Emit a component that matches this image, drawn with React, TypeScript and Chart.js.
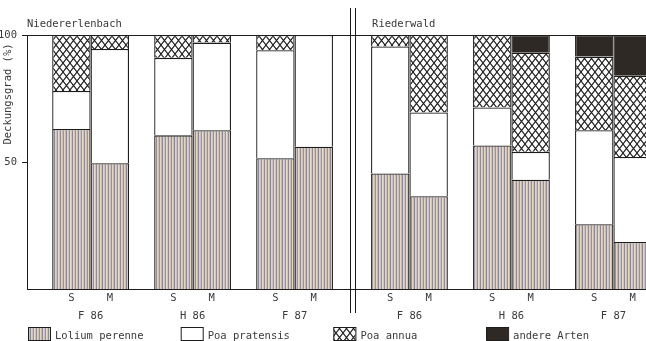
import React, { useEffect, useRef } from 'react';
import { Chart, registerables } from 'chart.js';

Chart.register(...registerables);

// ---------- data ----------
const panels = ['Niedererlenbach', 'Riederwald'];
const periods = ['F 86', 'H 86', 'F 87'];
const sites = ['S', 'M'];
const yTickValues = [50, 100];
const yTitle = 'Deckungsgrad (%)';
const speciesNames = ['Lolium perenne', 'Poa pratensis', 'Poa annua', 'andere Arten'];

// bar order: panel -> period -> site (S, M)
const loliumPerenne = [63, 49.5, 60.5, 62.5, 51.5, 56, 45.5, 36.5, 56.5, 43, 25.5, 18.5];
const poaPratensis = [15, 45, 30.5, 34.5, 42.5, 44, 50, 33, 15, 11, 37, 33.5];
const poaAnnua = [22, 5.5, 9, 3, 6, null, 4.5, 30.5, 28.5, 39, 29, 32];
const andereArten = [null, null, null, null, null, null, null, null, null, 7, 8.5, 16];

// ---------- layout (x in units of one bar width) ----------
const GAP = 0.656;
const PITCH = 2 + GAP;
const PANEL_START = [GAP, 8.96];
const X_MAX = 16.12;
const SEPARATOR = (PANEL_START[0] + 2 * PITCH + 2 + PANEL_START[1]) / 2;

const LINE = '#1c1c1c';
const TEXT = '#3a3a3a';
const FONT = '"DejaVu Sans Mono", "Liberation Mono", monospace';

type Bar = { x: number; p: number; g: number; s: number };
const bars: Bar[] = [];
panels.forEach((_, p) =>
  periods.forEach((_, g) =>
    sites.forEach((_, s) => bars.push({ x: PANEL_START[p] + g * PITCH + s + 0.5, p, g, s }))
  )
);

const xTicks: { value: number; label: string | string[] }[] = [];
panels.forEach((_, p) =>
  periods.forEach((per, g) => {
    const base = PANEL_START[p] + g * PITCH;
    xTicks.push({ value: base + 0.5, label: sites[0] });
    xTicks.push({ value: base + 1, label: ['', per] });
    xTicks.push({ value: base + 1.5, label: sites[1] });
  })
);

function makeStripePattern(): CanvasPattern | string {
  const c = document.createElement('canvas');
  const cols = [
    '#8e8a90', '#e2d5c8', '#cfc2b8', '#949099', '#e6d6c6', '#d6b8a0', '#8c8890', '#dcd2cc',
    '#c9c3c8', '#9a95a0', '#e8d9ca', '#d9c0aa', '#918c92', '#e0d4ca', '#cdbfb6', '#98939c',
    '#e4d4c4', '#d2b49c', '#8f8a92', '#ddd3cd', '#c8c4cc', '#96919a', '#e6d8cb', '#d6c4b4',
  ];
  c.width = cols.length;
  c.height = 4;
  const g = c.getContext('2d');
  if (!g) return '#c2b6ad';
  cols.forEach((col, i) => {
    g.fillStyle = col;
    g.fillRect(i, 0, 1, 4);
  });
  return g.createPattern(c, 'repeat') || '#c2b6ad';
}

function makeCrossPattern(): CanvasPattern | string {
  const c = document.createElement('canvas');
  const w = 7;
  const h = 9;
  c.width = w;
  c.height = h;
  const g = c.getContext('2d');
  if (!g) return '#999';
  g.fillStyle = '#ffffff';
  g.fillRect(0, 0, w, h);
  g.strokeStyle = '#1e1e1e';
  g.lineWidth = 1.1;
  g.beginPath();
  g.moveTo(0, 0);
  g.lineTo(w, h);
  g.moveTo(w, 0);
  g.lineTo(0, h);
  g.stroke();
  return g.createPattern(c, 'repeat') || '#999';
}

export default function App() {
  const ref = useRef<HTMLCanvasElement | null>(null);

  useEffect(() => {
    if (!ref.current) return;
    const fills = [makeStripePattern(), '#ffffff', makeCrossPattern(), '#2e2925'];
    const series = [loliumPerenne, poaPratensis, poaAnnua, andereArten];

    const decor = {
      id: 'decor',
      afterDraw(chart: any) {
        const { ctx, chartArea } = chart;
        const xs = chart.scales.x;
        ctx.save();
        // double separator line
        const sx = xs.getPixelForValue(SEPARATOR);
        ctx.strokeStyle = LINE;
        ctx.lineWidth = 1;
        [-2.5, 2.5].forEach((dx) => {
          const px = Math.round(sx + dx) + 0.5;
          ctx.beginPath();
          ctx.moveTo(px, 8);
          ctx.lineTo(px, 313);
          ctx.stroke();
        });
        ctx.fillStyle = TEXT;
        ctx.font = `10.5px ${FONT}`;
        ctx.textBaseline = 'middle';
        // y axis title
        ctx.save();
        ctx.translate(8, 94);
        ctx.rotate(-Math.PI / 2);
        ctx.textAlign = 'center';
        ctx.fillText(yTitle, 0, 0);
        ctx.restore();
        // panel titles
        ctx.textAlign = 'left';
        ctx.fillText(panels[0], chartArea.left, 24);
        ctx.fillText(panels[1], xs.getPixelForValue(PANEL_START[1]) + 1, 24);
        // legend
        speciesNames.forEach((name, i) => {
          const x0 = 28 + i * 152.7;
          const y0 = 327;
          ctx.fillStyle = fills[i];
          ctx.fillRect(x0, y0, 22, 13);
          ctx.strokeStyle = LINE;
          ctx.strokeRect(x0 + 0.5, y0 + 0.5, 22, 13);
          ctx.fillStyle = TEXT;
          ctx.fillText(name, x0 + 27, 336);
        });
        ctx.restore();
      },
    };

    const chart = new Chart(ref.current, {
      type: 'bar',
      data: {
        datasets: series.map((vals, i) => ({
          label: speciesNames[i],
          data: bars.map((b, j) => ({ x: b.x, y: vals[j] as any })),
          backgroundColor: fills[i] as any,
          borderColor: LINE,
          borderWidth: { top: 1.3, left: 1.3, right: 1.3, bottom: 0 },
          borderSkipped: false,
          // smallest sample spacing is the 0.5-unit tick spacing; bars span one unit
          barPercentage: 2,
          categoryPercentage: 1,
        })),
      },
      options: {
        animation: false,
        responsive: true,
        maintainAspectRatio: false,
        layout: { padding: { top: 35, left: 0, right: 0, bottom: 0 } },
        plugins: { legend: { display: false }, tooltip: { enabled: false } },
        scales: {
          x: {
            type: 'linear',
            stacked: true,
            offset: false,
            min: 0,
            max: X_MAX,
            grid: { display: false, offset: false, drawTicks: false },
            border: { display: true, color: LINE, width: 1 },
            afterBuildTicks: (scale: any) => {
              scale.ticks = xTicks.map((t) => ({ value: t.value }));
            },
            afterFit: (scale: any) => {
              scale.height = 52;
            },
            ticks: {
              autoSkip: false,
              maxRotation: 0,
              minRotation: 0,
              padding: 1,
              color: TEXT,
              font: { family: FONT, size: 10.5, lineHeight: '17.5px' as any },
              callback: (_v: any, i: number) => (xTicks[i] ? xTicks[i].label : ''),
            },
          },
          y: {
            stacked: true,
            min: 0,
            max: 100,
            afterBuildTicks: (scale: any) => {
              scale.ticks = yTickValues.map((v) => ({ value: v }));
            },
            afterFit: (scale: any) => {
              scale.width = 27;
            },
            grid: {
              display: true,
              drawOnChartArea: true,
              color: (c: any) => (c.tick && c.tick.value === 100 ? LINE : 'rgba(0,0,0,0)'),
              tickColor: LINE,
              tickLength: 5,
              lineWidth: 1,
            },
            border: { display: true, color: LINE, width: 1 },
            ticks: {
              padding: 5,
              color: TEXT,
              font: { family: FONT, size: 10.5 },
            },
            title: { display: false },
          },
        },
      },
      plugins: [decor],
    } as any);

    return () => chart.destroy();
  }, []);

  return (
    <div style={{ position: 'absolute', left: 0, top: 0, width: 646, height: 341, background: '#ffffff' }}>
      <canvas ref={ref} />
    </div>
  );
}
